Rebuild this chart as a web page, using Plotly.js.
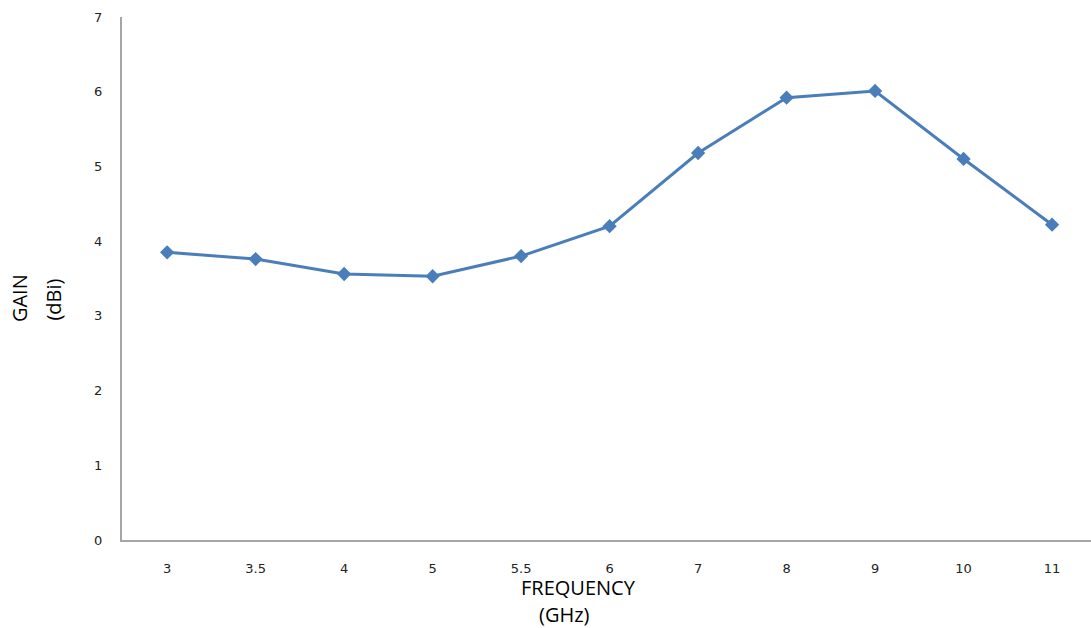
<!DOCTYPE html>
<html><head><meta charset="utf-8">
<script src="https://cdn.plot.ly/plotly-3.0.1.min.js"></script>
<style>html,body{margin:0;padding:0;background:#fff}#chart{width:1091px;height:628px}</style>
</head><body><div id="chart"></div>
<script>
const frequencies = ['3','3.5','4','5','5.5','6','7','8','9','10','11'];
const gain = [3.85,3.76,3.56,3.53,3.80,4.20,5.18,5.92,6.01,5.10,4.22];
const yTicks = [0,1,2,3,4,5,6,7];

Plotly.newPlot('chart', [{
  x: frequencies, y: gain, type: 'scatter', mode: 'lines+markers',
  line: {color: '#4a7ebb', width: 3},
  marker: {symbol: 'diamond', size: 11, color: '#4a7ebb'},
  hoverinfo: 'x+y'
}], {
  width: 1091, height: 628,
  margin: {l: 122, r: 0, t: 17, b: 88},
  paper_bgcolor: '#fff', plot_bgcolor: '#fff',
  showlegend: false,
  font: {family: 'DejaVu Sans, Verdana, sans-serif', size: 13, color: '#222'},
  xaxis: {
    type: 'category', range: [-0.51, 10.44],
    showgrid: false, zeroline: false, showline: true, linecolor: '#a6a6a6', linewidth: 2,
    ticks: '', ticklabelstandoff: 15, tickfont: {size: 13, color: '#222'}
  },
  yaxis: {
    range: [0, 7], tickvals: yTicks, ticktext: yTicks.map(String),
    showgrid: false, zeroline: false, showline: true, linecolor: '#a6a6a6', linewidth: 2,
    ticks: '', ticklabelstandoff: 15, tickfont: {size: 13, color: '#222'}
  },
  annotations: [
    {text: 'GAIN', xref: 'paper', yref: 'paper', x: -0.105, y: 0.463, xanchor: 'center', yanchor: 'middle',
     textangle: -90, showarrow: false, font: {family: 'Open Sans, sans-serif', size: 20, color: '#000'}},
    {text: '(dBi)', xref: 'paper', yref: 'paper', x: -0.071, y: 0.46, xanchor: 'center', yanchor: 'middle',
     textangle: -90, showarrow: false, font: {family: 'Open Sans, sans-serif', size: 20, color: '#000'}},
    {text: 'FREQUENCY', xref: 'paper', yref: 'paper', x: 0.4706, y: -0.091, xanchor: 'center', yanchor: 'middle',
     showarrow: false, font: {family: 'Open Sans, sans-serif', size: 20, color: '#000'}},
    {text: '(GHz)', xref: 'paper', yref: 'paper', x: 0.457, y: -0.142, xanchor: 'center', yanchor: 'middle',
     showarrow: false, font: {family: 'Open Sans, sans-serif', size: 20, color: '#000'}}
  ]
}, {displayModeBar: false, staticPlot: true});
</script></body></html>
